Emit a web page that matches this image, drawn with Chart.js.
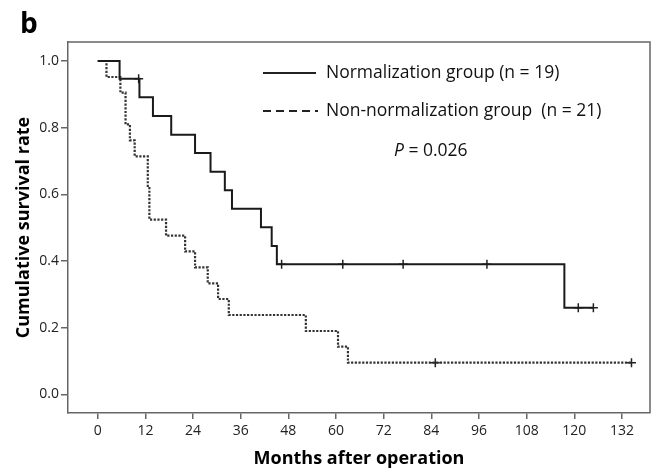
<!DOCTYPE html>
<html>
<head>
<meta charset="utf-8">
<script src="https://cdn.jsdelivr.net/npm/chart.js@4"></script>
<style>
  html, body { margin: 0; padding: 0; background: #fff; }
  #wrap { width: 656px; height: 471px; }
</style>
</head>
<body>
<div id="wrap"><canvas id="km" width="656" height="471"></canvas></div>
<script>
// Kaplan-Meier steps (months, cumulative survival)
const normTimes = [0, 5.5, 10.5, 13.9, 18.5, 24.5, 28.4, 32.0, 33.8, 41.1, 43.8, 45.1, 117.5, 124.8];
const normSurv = [1, 0.947, 0.891, 0.835, 0.779, 0.724, 0.668, 0.612, 0.557, 0.501, 0.445, 0.390, 0.260, 0.260];
const normCensorTimes = [10.3, 46.3, 61.7, 76.9, 98.0, 121.0, 124.8];
const normCensorSurv = [0.947, 0.390, 0.390, 0.390, 0.390, 0.260, 0.260];

const nonTimes = [0, 2.2, 5.7, 7.0, 8.1, 9.3, 12.6, 13.0, 17.2, 22.0, 24.5, 27.7, 30.3, 33.0, 52.4, 60.5, 63.0, 134.4];
const nonSurv = [1, 0.952, 0.905, 0.810, 0.762, 0.714, 0.619, 0.524, 0.476, 0.429, 0.381, 0.333, 0.286, 0.238, 0.190, 0.143, 0.095, 0.095];
const nonCensorTimes = [85.0, 134.4];
const nonCensorSurv = [0.095, 0.095];

const xTickValues = [0, 12, 24, 36, 48, 60, 72, 84, 96, 108, 120, 132];
const yTickValues = [0, 0.2, 0.4, 0.6, 0.8, 1.0];

const legendLabels = ['Normalization group (n = 19)', 'Non-normalization group  (n = 21)'];
const pValueText = '0.026';

const FONT = "'Open Sans', 'DejaVu Sans', sans-serif";
const AXIS_COLOR = '#666';

function toPoints(xs, ys) {
  return xs.map((x, i) => ({ x: x, y: ys[i] }));
}

// Box around the plot, legend, panel letter
const decorations = {
  id: 'decorations',
  afterDraw(chart) {
    const ctx = chart.ctx;
    const a = chart.chartArea;
    ctx.save();
    ctx.strokeStyle = AXIS_COLOR;
    ctx.lineWidth = 1.5;
    ctx.beginPath();
    ctx.moveTo(a.left, a.top);
    ctx.lineTo(a.right, a.top);
    ctx.lineTo(a.right, a.bottom);
    ctx.stroke();

    // panel letter
    ctx.fillStyle = '#000';
    ctx.font = 'bold 28px ' + FONT;
    ctx.textBaseline = 'alphabetic';
    ctx.fillText('b', 20, 33);

    // legend
    ctx.strokeStyle = '#222';
    ctx.lineWidth = 1.8;
    ctx.beginPath();
    ctx.moveTo(263, 73);
    ctx.lineTo(316, 73);
    ctx.stroke();
    ctx.setLineDash([8, 5]);
    ctx.beginPath();
    ctx.moveTo(263, 111);
    ctx.lineTo(318, 111);
    ctx.stroke();
    ctx.setLineDash([]);

    ctx.fillStyle = '#111';
    ctx.font = '17.5px ' + FONT;
    ctx.textBaseline = 'middle';
    ctx.fillText(legendLabels[0], 326, 73);
    ctx.fillText(legendLabels[1], 326, 111);

    ctx.font = 'italic 17.5px ' + FONT;
    ctx.fillText('P', 394, 151);
    const pw = ctx.measureText('P').width;
    ctx.font = '17.5px ' + FONT;
    ctx.fillText(' = ' + pValueText, 394 + pw, 151);
    ctx.restore();
  }
};

new Chart(document.getElementById('km'), {
  type: 'line',
  data: {
    datasets: [
      {
        label: legendLabels[0],
        data: toPoints(normTimes, normSurv),
        stepped: 'before',
        borderColor: '#1a1a1a',
        borderWidth: 2,
        pointRadius: 0,
        fill: false
      },
      {
        label: legendLabels[1],
        data: toPoints(nonTimes, nonSurv),
        stepped: 'before',
        borderColor: '#333',
        borderWidth: 2.2,
        borderDash: [2.2, 1.5],
        pointRadius: 0,
        fill: false
      },
      {
        type: 'scatter',
        data: toPoints(normCensorTimes, normCensorSurv),
        showLine: false,
        pointStyle: 'cross',
        pointRadius: 4.5,
        borderColor: '#222',
        borderWidth: 1.5
      },
      {
        type: 'scatter',
        data: toPoints(nonCensorTimes, nonCensorSurv),
        showLine: false,
        pointStyle: 'cross',
        pointRadius: 4.5,
        borderColor: '#222',
        borderWidth: 1.5
      }
    ]
  },
  options: {
    responsive: false,
    animation: false,
    devicePixelRatio: 1,
    layout: { padding: { top: 42, right: 1, left: 0, bottom: 0 } },
    plugins: {
      legend: { display: false },
      tooltip: { enabled: false }
    },
    scales: {
      x: {
        type: 'linear',
        min: -7.49,
        max: 139.06,
        afterBuildTicks: (scale) => { scale.ticks = xTickValues.map(v => ({ value: v })); },
        afterFit: (scale) => { scale.height = 58; },
        grid: { drawOnChartArea: false, drawTicks: true, tickLength: 6, color: AXIS_COLOR, lineWidth: 1.5 },
        border: { display: true, color: AXIS_COLOR, width: 1.5 },
        ticks: { color: '#222', font: { family: FONT, size: 14 }, padding: 4, maxRotation: 0, autoSkip: false },
        title: {
          display: true,
          text: 'Months after operation',
          color: '#000',
          font: { family: FONT, size: 18, weight: 'bold' },
          padding: { top: 0, bottom: 1 }
        }
      },
      y: {
        type: 'linear',
        min: -0.056,
        max: 1.057,
        afterBuildTicks: (scale) => { scale.ticks = yTickValues.map(v => ({ value: v })); },
        afterFit: (scale) => { scale.width = 68; },
        grid: { drawOnChartArea: false, drawTicks: true, tickLength: 7, color: AXIS_COLOR, lineWidth: 1.5 },
        border: { display: true, color: AXIS_COLOR, width: 1.5 },
        ticks: {
          color: '#222',
          font: { family: FONT, size: 14 },
          padding: 2,
          callback: (v) => Number(v).toFixed(1)
        },
        title: {
          display: true,
          text: 'Cumulative survival rate',
          color: '#000',
          font: { family: FONT, size: 18, weight: 'bold' },
          padding: { top: 13, bottom: 0 }
        }
      }
    }
  },
  plugins: [decorations]
});
</script>
</body>
</html>
